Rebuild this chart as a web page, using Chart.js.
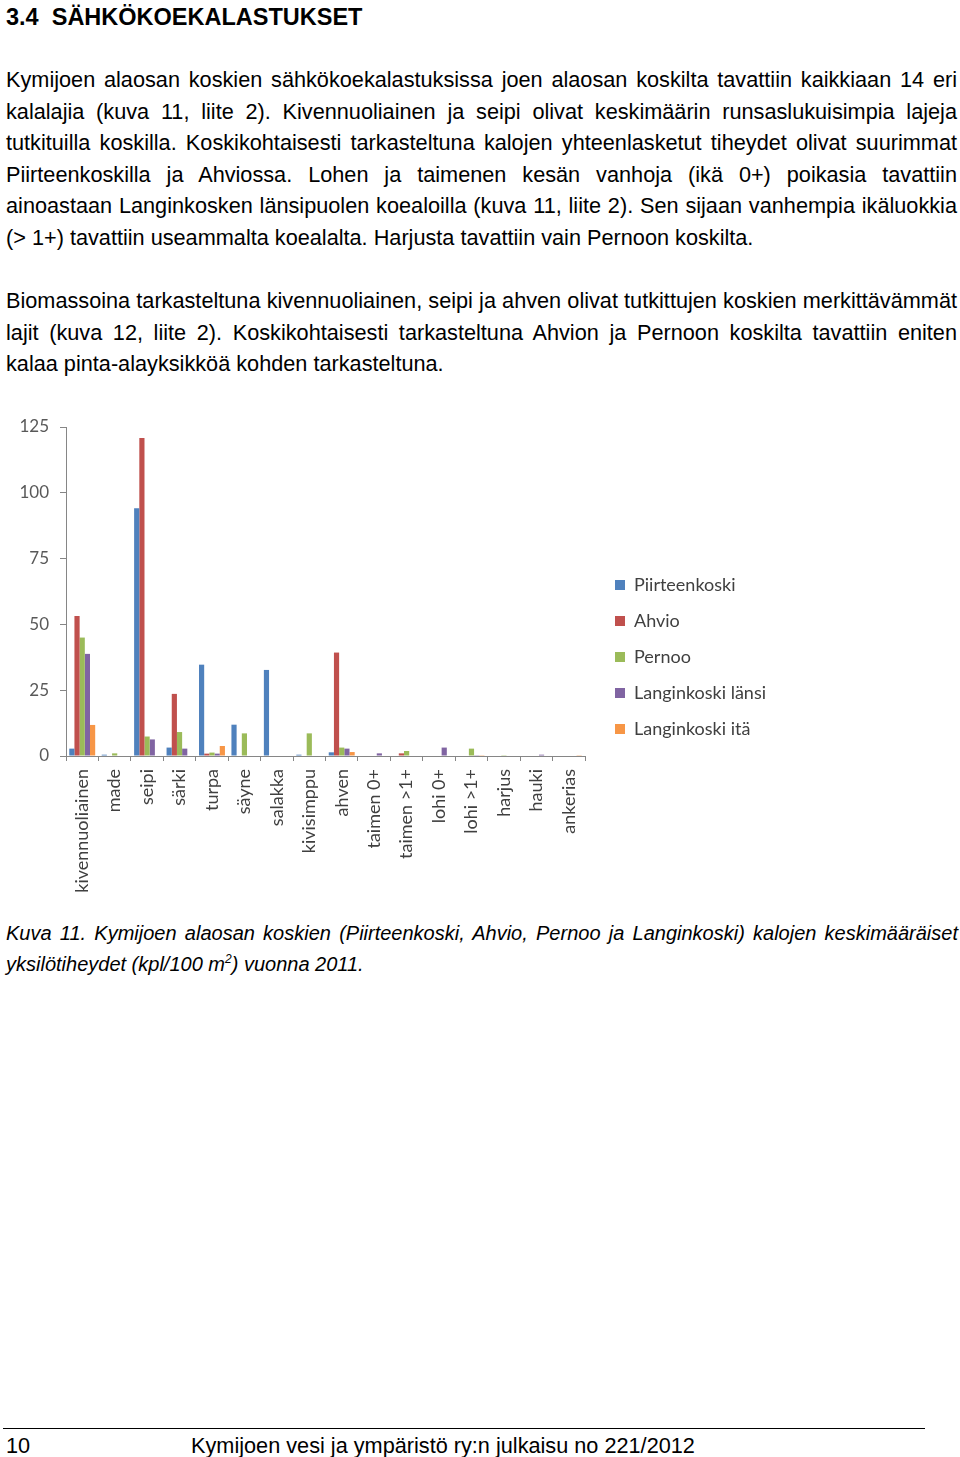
<!DOCTYPE html>
<html lang="fi">
<head>
<meta charset="utf-8">
<script src="https://cdn.jsdelivr.net/npm/chart.js@4"></script>
<style>
  html, body { margin: 0; padding: 0; background: #fff; }
  body { width: 960px; height: 1457px; position: relative; font-family: "Liberation Sans", Arial, sans-serif; color: #000; }
  .h { position: absolute; left: 6px; top: 4px; font-weight: bold; font-size: 23.5px; white-space: pre; }
  .p { position: absolute; left: 6px; width: 951px; font-size: 21.7px; line-height: 31.6px; }
  .p div { white-space: nowrap; text-align: justify; text-align-last: justify; }
  .p div.last { text-align-last: left; }
  .cap { position: absolute; left: 6px; top: 918px; width: 952px; font-size: 20px; line-height: 31px; font-style: italic; }
  .cap div { white-space: nowrap; text-align: justify; text-align-last: justify; }
  .cap div.last { text-align-last: left; }
  #wrap { position: absolute; left: 0; top: 405px; width: 800px; height: 500px; }
  .rule { position: absolute; left: 3px; top: 1428px; width: 922px; height: 1px; background: #000; }
  .foot { position: absolute; top: 1433px; font-size: 21.7px; }
</style>
</head>
<body>
<div class="h">3.4  SÄHKÖKOEKALASTUKSET</div>

<div class="p" style="top:64px">
  <div>Kymijoen alaosan koskien sähkökoekalastuksissa joen alaosan koskilta tavattiin kaikkiaan 14 eri</div>
  <div>kalalajia (kuva 11, liite 2). Kivennuoliainen ja seipi olivat keskimäärin runsaslukuisimpia lajeja</div>
  <div>tutkituilla koskilla. Koskikohtaisesti tarkasteltuna kalojen yhteenlasketut tiheydet olivat suurimmat</div>
  <div>Piirteenkoskilla ja Ahviossa. Lohen ja taimenen kesän vanhoja (ikä 0+) poikasia tavattiin</div>
  <div>ainoastaan Langinkosken länsipuolen koealoilla (kuva 11, liite 2). Sen sijaan vanhempia ikäluokkia</div>
  <div class="last">(&gt; 1+) tavattiin useammalta koealalta. Harjusta tavattiin vain Pernoon koskilta.</div>
</div>

<div class="p" style="top:285px">
  <div>Biomassoina tarkasteltuna kivennuoliainen, seipi ja ahven olivat tutkittujen koskien merkittävämmät</div>
  <div>lajit (kuva 12, liite 2). Koskikohtaisesti tarkasteltuna Ahvion ja Pernoon koskilta tavattiin eniten</div>
  <div class="last">kalaa pinta-alayksikköä kohden tarkasteltuna.</div>
</div>

<div id="wrap"><canvas id="fishChart" width="800" height="500"></canvas></div>

<div class="cap">
  <div>Kuva 11. Kymijoen alaosan koskien (Piirteenkoski, Ahvio, Pernoo ja Langinkoski) kalojen keskimääräiset</div>
  <div class="last">yksilötiheydet (kpl/100 m<sup style="font-size:12px;line-height:0">2</sup>) vuonna 2011.</div>
</div>

<div class="rule"></div>
<div class="foot" style="left:6px">10</div>
<div class="foot" style="left:191px">Kymijoen vesi ja ympäristö ry:n julkaisu no 221/2012</div>

<script>
const species = ["kivennuoliainen", "made", "seipi", "särki", "turpa", "säyne", "salakka", "kivisimppu",
  "ahven", "taimen 0+", "taimen >1+", "lohi 0+", "lohi >1+", "harjus", "hauki", "ankerias"];

const piirteenkoski = [2.8, 0.5, 94.1, 3.2, 34.7, 11.9, 32.7, 0.5, 1.4, 0, 0, 0, 0, 0, 0, 0];
const ahvio = [53.2, 0, 120.8, 23.6, 0.9, 0, 0, 0, 39.3, 0, 1.0, 0, 0, 0, 0, 0];
const pernoo = [45.0, 1.0, 7.4, 9.1, 1.3, 8.6, 0, 8.6, 3.2, 0, 1.9, 0, 2.8, 0.3, 0, 0];
const langinkoskiLansi = [38.8, 0, 6.3, 2.8, 0.9, 0, 0, 0, 2.8, 1.0, 0, 3.2, 0.3, 0, 0.5, 0];
const langinkoskiIta = [11.8, 0, 0, 0, 3.8, 0, 0, 0, 1.5, 0, 0, 0, 0.3, 0, 0, 0.3];

const yTicks = [0, 25, 50, 75, 100, 125];

Chart.defaults.font.family = "Lato, 'Open Sans', sans-serif";
Chart.defaults.color = "#595959";

const axisGray = "#868686";

// legend gets a fixed width (layout would otherwise cap it) and sits a bit higher
const legendBox = {
  id: "legendBox",
  beforeLayout(chart) {
    const legend = chart.legend;
    if (!legend || legend._fixedWidth) return;
    const fit = legend.fit.bind(legend);
    legend.fit = function () {
      fit();
      this.width = 203;
    };
    legend._fixedWidth = true;
  },
  afterLayout(chart) {
    if (chart.legend) chart.legend.bottom -= 18;
  },
};

const fishChart = new Chart(document.getElementById("fishChart"), {
  type: "bar",
  data: {
    labels: species,
    datasets: [
      { label: "Piirteenkoski", data: piirteenkoski, backgroundColor: "#4F81BD" },
      { label: "Ahvio", data: ahvio, backgroundColor: "#C0504D" },
      { label: "Pernoo", data: pernoo, backgroundColor: "#9BBB59" },
      { label: "Langinkoski länsi", data: langinkoskiLansi, backgroundColor: "#8064A2" },
      { label: "Langinkoski itä", data: langinkoskiIta, backgroundColor: "#F79646" },
    ],
  },
  plugins: [legendBox],
  options: {
    responsive: false,
    animation: false,
    layout: { padding: { top: 22, left: 0, right: 0, bottom: 0 } },
    datasets: { bar: { categoryPercentage: 0.8, barPercentage: 1.0, borderWidth: 0 } },
    plugins: {
      tooltip: { enabled: false },
      legend: {
        position: "right",
        align: "center",
        labels: {
          boxWidth: 10,
          boxHeight: 10,
          padding: 18,
          color: "#404040",
          font: { size: 18 },
        },
      },
    },
    scales: {
      x: {
        grid: { display: true, offset: true, drawOnChartArea: false, tickLength: 5, color: axisGray },
        border: { color: axisGray },
        ticks: {
          autoSkip: false,
          minRotation: 90,
          maxRotation: 90,
          padding: 8,
          color: "#404040",
          font: { size: 18 },
        },
        afterFit: (scale) => { scale.height = 149; },
      },
      y: {
        min: 0,
        max: 125,
        afterBuildTicks: (scale) => { scale.ticks = yTicks.map((v) => ({ value: v })); },
        grid: { drawOnChartArea: false, tickLength: 6, color: axisGray },
        border: { color: axisGray },
        ticks: { padding: 11, color: "#595959", font: { size: 17 } },
        afterFit: (scale) => { scale.width = 66; },
      },
      gap: {
        type: "linear",
        position: "right",
        grid: { display: false },
        border: { display: false },
        ticks: { display: false },
        afterFit: (scale) => { scale.width = 12; },
      },
    },
  },
});
</script>
</body>
</html>
